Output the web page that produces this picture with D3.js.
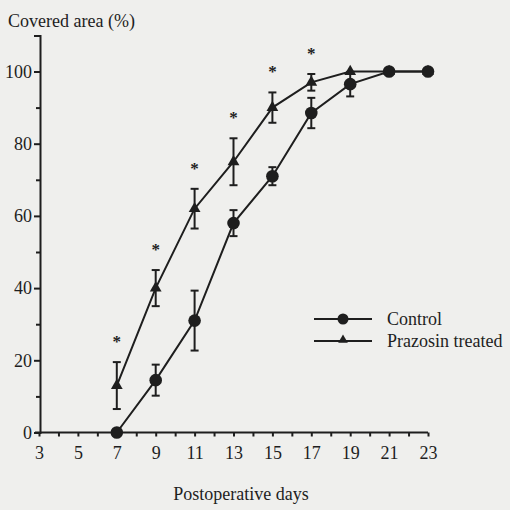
<!DOCTYPE html>
<html>
<head>
<meta charset="utf-8">
<script src="https://cdn.jsdelivr.net/npm/d3@7"></script>
<style>
  body { margin: 0; background: #efefed; }
  svg { display: block; }
  text { font-family: "Liberation Serif", "DejaVu Serif", serif; fill: #1e1e1e; }
</style>
</head>
<body>
<div id="chart"></div>
<script>
// data
const days = [7, 9, 11, 13, 15, 17, 19, 21, 23];
const control = [0, 14.5, 31, 58, 71, 88.5, 96.5, 100, 100];
const controlErr = [0, 4.3, 8.3, 3.6, 2.5, 4.2, 3.4, 0, 0];
const prazosin = [13, 40, 62, 75, 90, 97, 100, 100, 100];
const prazosinErr = [6.5, 5, 5.5, 6.5, 4.2, 2.3, 0, 0, 0];
const starDays = [7, 9, 11, 13, 15, 17];
const xTicks = d3.range(3, 24);
const yTicks = d3.range(0, 101, 10);

const W = 510, H = 510;
const svg = d3.select("#chart")
  .append("svg")
  .attr("width", W)
  .attr("height", H);

const x = d3.scaleLinear().domain([3, 23]).range([39, 428]);
const y = d3.scaleLinear().domain([0, 110]).range([432.5, 35.4]);

const ink = "#1e1e1e";

// Axes
const xAxis = svg.append("g")
  .attr("transform", `translate(0,${y(0)})`)
  .call(d3.axisBottom(x)
    .tickValues(xTicks)
    .tickSize(4)
    .tickSizeOuter(0)
    .tickPadding(10)
    .tickFormat(d => d % 2 === 1 ? d : ""));

const yAxis = svg.append("g")
  .attr("transform", `translate(${x(3) + 1},0)`)
  .call(d3.axisLeft(y)
    .tickValues(yTicks)
    .tickSizeOuter(0)
    .tickSize(6)
    .tickPadding(2)
    .tickFormat(d => d % 20 === 0 ? d : ""));

yAxis.selectAll(".tick line")
  .attr("x2", d => d % 20 === 0 ? -6 : -4);

// extend x axis line to the left like the original
xAxis.select(".domain").attr("d", `M${x(3) - 4},0H${x(23)}`);

[xAxis, yAxis].forEach(g => {
  g.attr("font-family", null);
  g.select(".domain").attr("stroke", ink).attr("stroke-width", 2);
  g.selectAll(".tick line").attr("stroke", ink).attr("stroke-width", 2);
  g.selectAll(".tick text")
    .style("font-size", "18px")
    .attr("fill", ink);
});

// Axis titles
svg.append("text")
  .attr("x", 8)
  .attr("y", 27)
  .style("font-size", "18px")
  .text("Covered area (%)");

svg.append("text")
  .attr("x", 241)
  .attr("y", 500)
  .attr("text-anchor", "middle")
  .style("font-size", "18px")
  .text("Postoperative days");

const line = d3.line()
  .x(d => x(d[0]))
  .y(d => y(d[1]));

const ctrlData = days.map((d, i) => [d, control[i], controlErr[i]]);
const przData = days.map((d, i) => [d, prazosin[i], prazosinErr[i]]);

function errorBars(data) {
  const g = svg.append("g")
    .attr("stroke", ink)
    .attr("stroke-width", 2);
  data.filter(d => d[2] > 0).forEach(d => {
    const cx = x(d[0]);
    g.append("line")
      .attr("x1", cx).attr("x2", cx)
      .attr("y1", y(d[1] - d[2])).attr("y2", y(d[1] + d[2]));
    [d[1] - d[2], d[1] + d[2]].forEach(v => {
      g.append("line")
        .attr("x1", cx - 4).attr("x2", cx + 4)
        .attr("y1", y(v)).attr("y2", y(v));
    });
  });
}

errorBars(ctrlData);
errorBars(przData);

// Lines
svg.append("path")
  .datum(ctrlData)
  .attr("fill", "none")
  .attr("stroke", ink)
  .attr("stroke-width", 2)
  .attr("d", line);

svg.append("path")
  .datum(przData)
  .attr("fill", "none")
  .attr("stroke", ink)
  .attr("stroke-width", 2)
  .attr("d", line);

// Markers
const tri = d3.symbol().type(d3.symbolTriangle).size(60);

svg.selectAll("path.tri")
  .data(przData)
  .join("path")
  .attr("class", "tri")
  .attr("transform", d => `translate(${x(d[0])},${y(d[1])})`)
  .attr("d", tri)
  .attr("fill", ink);

svg.selectAll("circle.ctrl")
  .data(ctrlData)
  .join("circle")
  .attr("class", "ctrl")
  .attr("cx", d => x(d[0]))
  .attr("cy", d => y(d[1]))
  .attr("r", 6.3)
  .attr("fill", ink);

// Significance stars
svg.selectAll("text.star")
  .data(starDays)
  .join("text")
  .attr("class", "star")
  .attr("x", d => x(d))
  .attr("y", d => {
    const i = days.indexOf(d);
    return y(prazosin[i] + prazosinErr[i]) - 15;
  })
  .attr("text-anchor", "middle")
  .style("font-size", "17px")
  .style("font-weight", "bold")
  .text("*");

// Legend
const legend = svg.append("g");
const legendItems = [
  { name: "Control", y: 319, mark: "circle" },
  { name: "Prazosin treated", y: 341, mark: "tri" }
];
legendItems.forEach(item => {
  legend.append("line")
    .attr("x1", 314).attr("x2", 372)
    .attr("y1", item.y).attr("y2", item.y)
    .attr("stroke", ink)
    .attr("stroke-width", 2);
  if (item.mark === "circle") {
    legend.append("circle")
      .attr("cx", 343).attr("cy", item.y).attr("r", 5.5)
      .attr("fill", ink);
  } else {
    legend.append("path")
      .attr("transform", `translate(343,${item.y - 1})`)
      .attr("d", d3.symbol().type(d3.symbolTriangle).size(40))
      .attr("fill", ink);
  }
  legend.append("text")
    .attr("x", 387)
    .attr("y", item.y + 6)
    .style("font-size", "18px")
    .text(item.name);
});
</script>
</body>
</html>
